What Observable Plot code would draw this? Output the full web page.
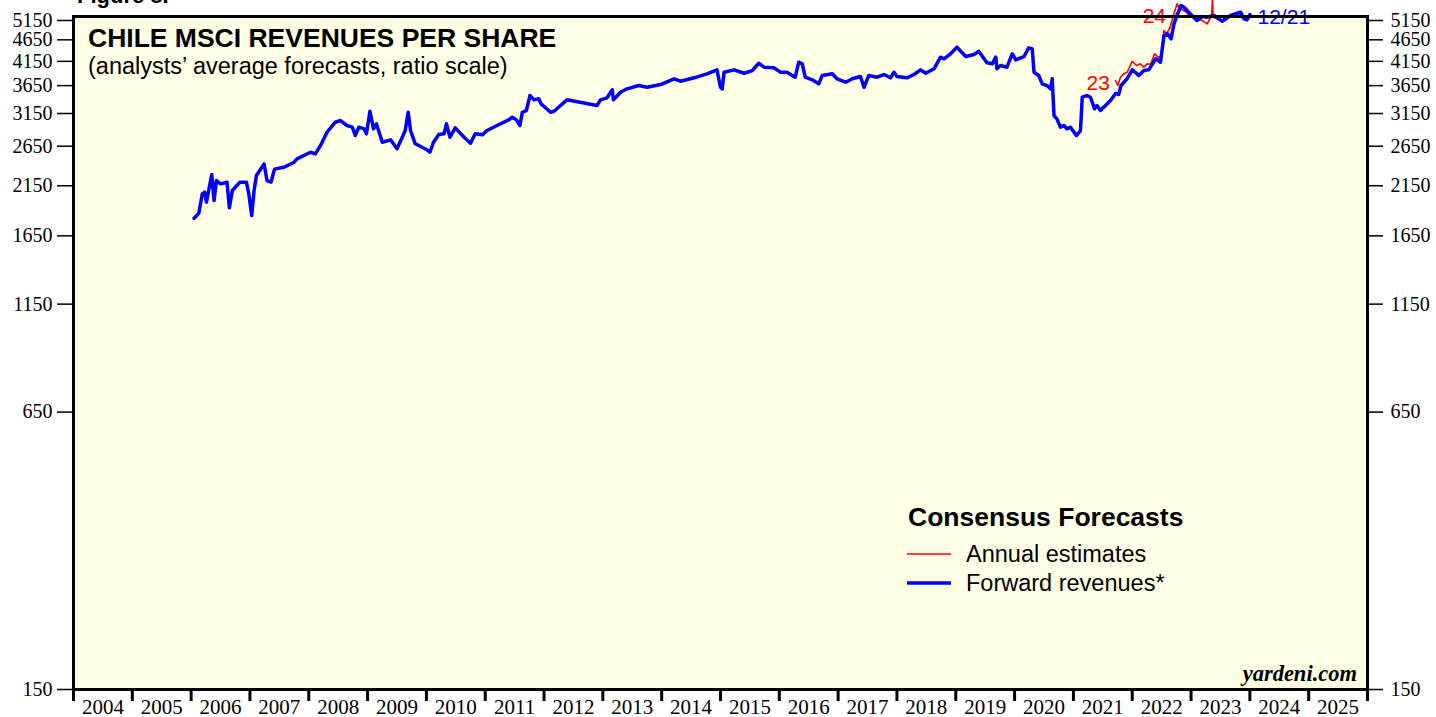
<!DOCTYPE html>
<html>
<head>
<meta charset="utf-8">
<script src="https://cdn.jsdelivr.net/npm/d3@7"></script>
<script src="https://cdn.jsdelivr.net/npm/@observablehq/plot@0.6"></script>
<style>
html, body { margin: 0; padding: 0; background: white; overflow: hidden; }
#chart svg { display: block; }
</style>
</head>
<body>
<div id="chart"></div>
<script>
// ---- Data ----
const yTicks = [150, 650, 1150, 1650, 2150, 2650, 3150, 3650, 4150, 4650, 5150];
const yearLabels = ["2004","2005","2006","2007","2008","2009","2010","2011","2012","2013","2014","2015","2016","2017","2018","2019","2020","2021","2022","2023","2024","2025"];

// Forward revenues (decimal year, value)
const fwdYear = [
  2006.05, 2006.13, 2006.19, 2006.23, 2006.26, 2006.35, 2006.39, 2006.43, 2006.50, 2006.61,
  2006.65, 2006.70, 2006.83, 2006.94, 2006.98, 2007.03, 2007.07, 2007.11, 2007.24, 2007.29,
  2007.36, 2007.41, 2007.43, 2007.58, 2007.75, 2007.80, 2008.03, 2008.11, 2008.20, 2008.31,
  2008.45, 2008.54, 2008.65, 2008.74, 2008.79, 2008.85, 2008.94, 2008.98, 2009.04, 2009.10,
  2009.15, 2009.25, 2009.39, 2009.50, 2009.59, 2009.64, 2009.69, 2009.73, 2009.81, 2010.01,
  2010.06, 2010.12, 2010.21, 2010.30, 2010.34, 2010.40, 2010.49, 2010.64, 2010.75, 2010.83,
  2010.95, 2011.03, 2011.20, 2011.40, 2011.46, 2011.53, 2011.59, 2011.63, 2011.70, 2011.76,
  2011.83, 2011.91, 2011.95, 2012.11, 2012.17, 2012.28, 2012.39, 2012.90, 2012.96, 2013.07,
  2013.16, 2013.18, 2013.30, 2013.41, 2013.61, 2013.75, 2013.98, 2014.21, 2014.32, 2014.55,
  2014.77, 2014.94, 2015.00, 2015.03, 2015.06, 2015.23, 2015.40, 2015.54, 2015.65, 2015.74,
  2015.91, 2016.02, 2016.13, 2016.27, 2016.33, 2016.39, 2016.44, 2016.56, 2016.67, 2016.73,
  2016.90, 2016.98, 2017.13, 2017.24, 2017.38, 2017.44, 2017.52, 2017.66, 2017.78, 2017.89,
  2017.95, 2018.00, 2018.17, 2018.29, 2018.40, 2018.49, 2018.63, 2018.74, 2018.80, 2018.91,
  2019.02, 2019.17, 2019.31, 2019.39, 2019.53, 2019.62, 2019.68, 2019.70, 2019.76, 2019.87,
  2019.96, 2020.02, 2020.16, 2020.24, 2020.30, 2020.33, 2020.41, 2020.47, 2020.55, 2020.61,
  2020.64, 2020.67, 2020.72, 2020.78, 2020.84, 2020.89, 2020.95, 2021.05, 2021.12, 2021.15,
  2021.23, 2021.29, 2021.36, 2021.40, 2021.46, 2021.63, 2021.72, 2021.77, 2021.81, 2021.91,
  2022.00, 2022.07, 2022.11, 2022.20, 2022.28, 2022.40, 2022.48, 2022.54, 2022.60, 2022.66,
  2022.71, 2022.76, 2022.83, 2022.88, 2022.96, 2023.10, 2023.19, 2023.27, 2023.39, 2023.53,
  2023.67, 2023.84, 2023.90, 2023.95, 2024.00
];
const fwdValue = [
  1811, 1859, 2060, 2078, 1971, 2282, 1989, 2210, 2172, 2191,
  1913, 2097, 2191, 2191, 2060, 1837, 2097, 2270, 2414, 2210,
  2191, 2330, 2351, 2371, 2435, 2479, 2567, 2545, 2660, 2853,
  3008, 3035, 2956, 2930, 2804, 2930, 2905, 2829, 3188, 2905,
  2983, 2706, 2741, 2614, 2779, 2879, 3171, 2879, 2684, 2600,
  2567, 2706, 2819, 2829, 2983, 2779, 2920, 2779, 2692, 2829,
  2814, 2879, 2956, 3046, 3089, 3046, 2956, 3171, 3200, 3464,
  3386, 3404, 3315, 3171, 3188, 3286, 3386, 3286, 3386, 3422,
  3570, 3386, 3525, 3589, 3652, 3619, 3671, 3784, 3736, 3804,
  3885, 3968, 3619, 3589, 3918, 3968, 3897, 3953, 4109, 4023,
  4010, 3918, 3918, 3816, 4131, 4096, 3816, 3764, 3685, 3850,
  3885, 3784, 3716, 3784, 3830, 3619, 3850, 3816, 3871, 3804,
  3918, 3830, 3804, 3871, 3968, 3897, 3989, 4242, 4206, 4318,
  4472, 4257, 4302, 4378, 4118, 4096, 4242, 3989, 4059, 4023,
  4318, 4183, 4257, 4457, 4434, 3918, 3850, 3685, 3652, 3589,
  3784, 3116, 3062, 2930, 2956, 2905, 2930, 2804, 2879, 3433,
  3464, 3433, 3229, 3286, 3200, 3374, 3506, 3482, 3652, 3784,
  3968, 3897, 3850, 3953, 3968, 4206, 4131, 4750, 4800, 4675,
  5061, 5288, 5574, 5525, 5381, 5149, 5260, 5240, 5288, 5130,
  5288, 5381, 5196, 5169, 5316
];

// Annual estimates (2023 and 2024 consensus)
const annYear = [
  2021.715, 2021.755, 2021.80, 2021.857, 2021.914, 2021.999, 2022.072, 2022.14, 2022.196, 2022.254,
  2022.31, 2022.38, 2022.45, 2022.50, 2022.536, 2022.58, 2022.64, 2022.70, 2022.764, 2022.80,
  2022.90, 2023.00, 2023.104, 2023.19, 2023.274, 2023.35, 2023.365, 2023.375, 2023.45, 2023.53
];
const annValue = [
  3750, 3652, 3816, 3885, 3918, 4152, 4059, 4096, 4023, 4096,
  4081, 4318, 4228, 4300, 4884, 4800, 4950, 5288, 5625, 5500,
  5400, 5250, 5196, 5150, 5061, 5288, 5800, 5240, 5200, 5150
];

// Line labels
const annLabelText = ["23", "24"];
const annLabelYear = [2021.62, 2022.575];
const annLabelValue = [3700, 5260];
const fwdLabelText = ["12/21"];
const fwdLabelYear = [2024.13];
const fwdLabelValue = [5240];

// ---- Build tables ----
const fwd = fwdYear.map((x, i) => ({x, y: fwdValue[i]}));
const ann = annYear.map((x, i) => ({x, y: annValue[i]}));
const annLabels = annLabelText.map((t, i) => ({t, x: annLabelYear[i], y: annLabelValue[i]}));
const fwdLabels = fwdLabelText.map((t, i) => ({t, x: fwdLabelYear[i], y: fwdLabelValue[i]}));
const yearStarts = yearLabels.map(s => +s).concat([+yearLabels[yearLabels.length - 1] + 1]);
const yearMids = yearLabels.map(s => +s + 0.5);

const serif = "'Liberation Serif', 'Times New Roman', serif";
const sans = "'Liberation Sans', Arial, sans-serif";

const W = 1436, H = 717;
const chart = Plot.plot({
  width: W,
  height: H,
  marginLeft: 73,
  marginRight: 69,
  marginTop: 16,
  marginBottom: 28,
  style: {background: "white", fontFamily: serif, fontSize: "20px", overflow: "visible", color: "black"},
  x: {type: "linear", domain: [2004, 2026]},
  y: {type: "log", domain: [150, 5260]},
  marks: [
    Plot.frame({fill: "#FFFFE6", stroke: null}),
    Plot.axisY({anchor: "left", ticks: yTicks, tickFormat: d => String(d), tickSize: 16, tickPadding: 5, strokeWidth: 1.5, fontSize: 20, fontFamily: serif, label: null}),
    Plot.axisY({anchor: "right", ticks: yTicks, tickFormat: d => String(d), tickSize: 15, tickPadding: 8, strokeWidth: 1.5, fontSize: 20, fontFamily: serif, label: null}),
    Plot.axisX({ticks: yearStarts, tickFormat: () => "", tickSize: 12, strokeWidth: 3, label: null}),
    Plot.axisX({ticks: yearMids, tickFormat: d => String(Math.floor(d)), tickSize: 0, tickPadding: 10, fontSize: 21, fontFamily: serif, label: null}),
    Plot.line(ann, {x: "x", y: "y", stroke: "#FF0000", strokeWidth: 1.6}),
    Plot.line(fwd, {x: "x", y: "y", stroke: "#0000FF", strokeWidth: 3.5, strokeLinejoin: "round"}),
    Plot.text(annLabels, {x: "x", y: "y", text: "t", fill: "#FF0000", textAnchor: "end", fontFamily: sans, fontSize: 21}),
    Plot.text(fwdLabels, {x: "x", y: "y", text: "t", fill: "#0000FF", textAnchor: "start", fontFamily: sans, fontSize: 21}),
    Plot.frame({stroke: "black", strokeWidth: 3})
  ]
});
document.getElementById("chart").appendChild(chart);

// ---- Annotations (titles, legend, credit) ----
const svg = d3.select(chart);
const g = svg.append("g").attr("text-anchor", "start");
g.append("text").attr("x", 77).attr("y", 3).attr("text-anchor", "start").attr("font-family", sans).attr("font-weight", "bold").attr("font-size", 22).attr("fill", "black").text("Figure 8.");
g.append("text").attr("x", 88).attr("y", 47).attr("text-anchor", "start").attr("font-family", sans).attr("font-weight", "bold").attr("font-size", 26.5).attr("fill", "black").text("CHILE MSCI REVENUES PER SHARE");
g.append("text").attr("x", 88).attr("y", 74).attr("text-anchor", "start").attr("font-family", sans).attr("font-size", 23.5).attr("fill", "black").text("(analysts\u2019 average forecasts, ratio scale)");

g.append("text").attr("x", 908).attr("y", 526).attr("text-anchor", "start").attr("font-family", sans).attr("font-weight", "bold").attr("font-size", 26.5).attr("fill", "black").text("Consensus Forecasts");
g.append("line").attr("x1", 907).attr("x2", 951).attr("y1", 554).attr("y2", 554).attr("stroke", "#FF0000").attr("stroke-width", 1.6);
g.append("text").attr("x", 966).attr("y", 562).attr("text-anchor", "start").attr("font-family", sans).attr("font-size", 23.5).attr("fill", "black").text("Annual estimates");
g.append("line").attr("x1", 907).attr("x2", 951).attr("y1", 583).attr("y2", 583).attr("stroke", "#0000FF").attr("stroke-width", 3.5);
g.append("text").attr("x", 966).attr("y", 591).attr("text-anchor", "start").attr("font-family", sans).attr("font-size", 23.5).attr("fill", "black").text("Forward revenues*");

g.append("text").attr("x", 1357).attr("y", 681).attr("text-anchor", "end").attr("font-family", serif).attr("font-weight", "bold").attr("font-style", "italic").attr("font-size", 22.5).attr("fill", "black").text("yardeni.com");
</script>
</body>
</html>
